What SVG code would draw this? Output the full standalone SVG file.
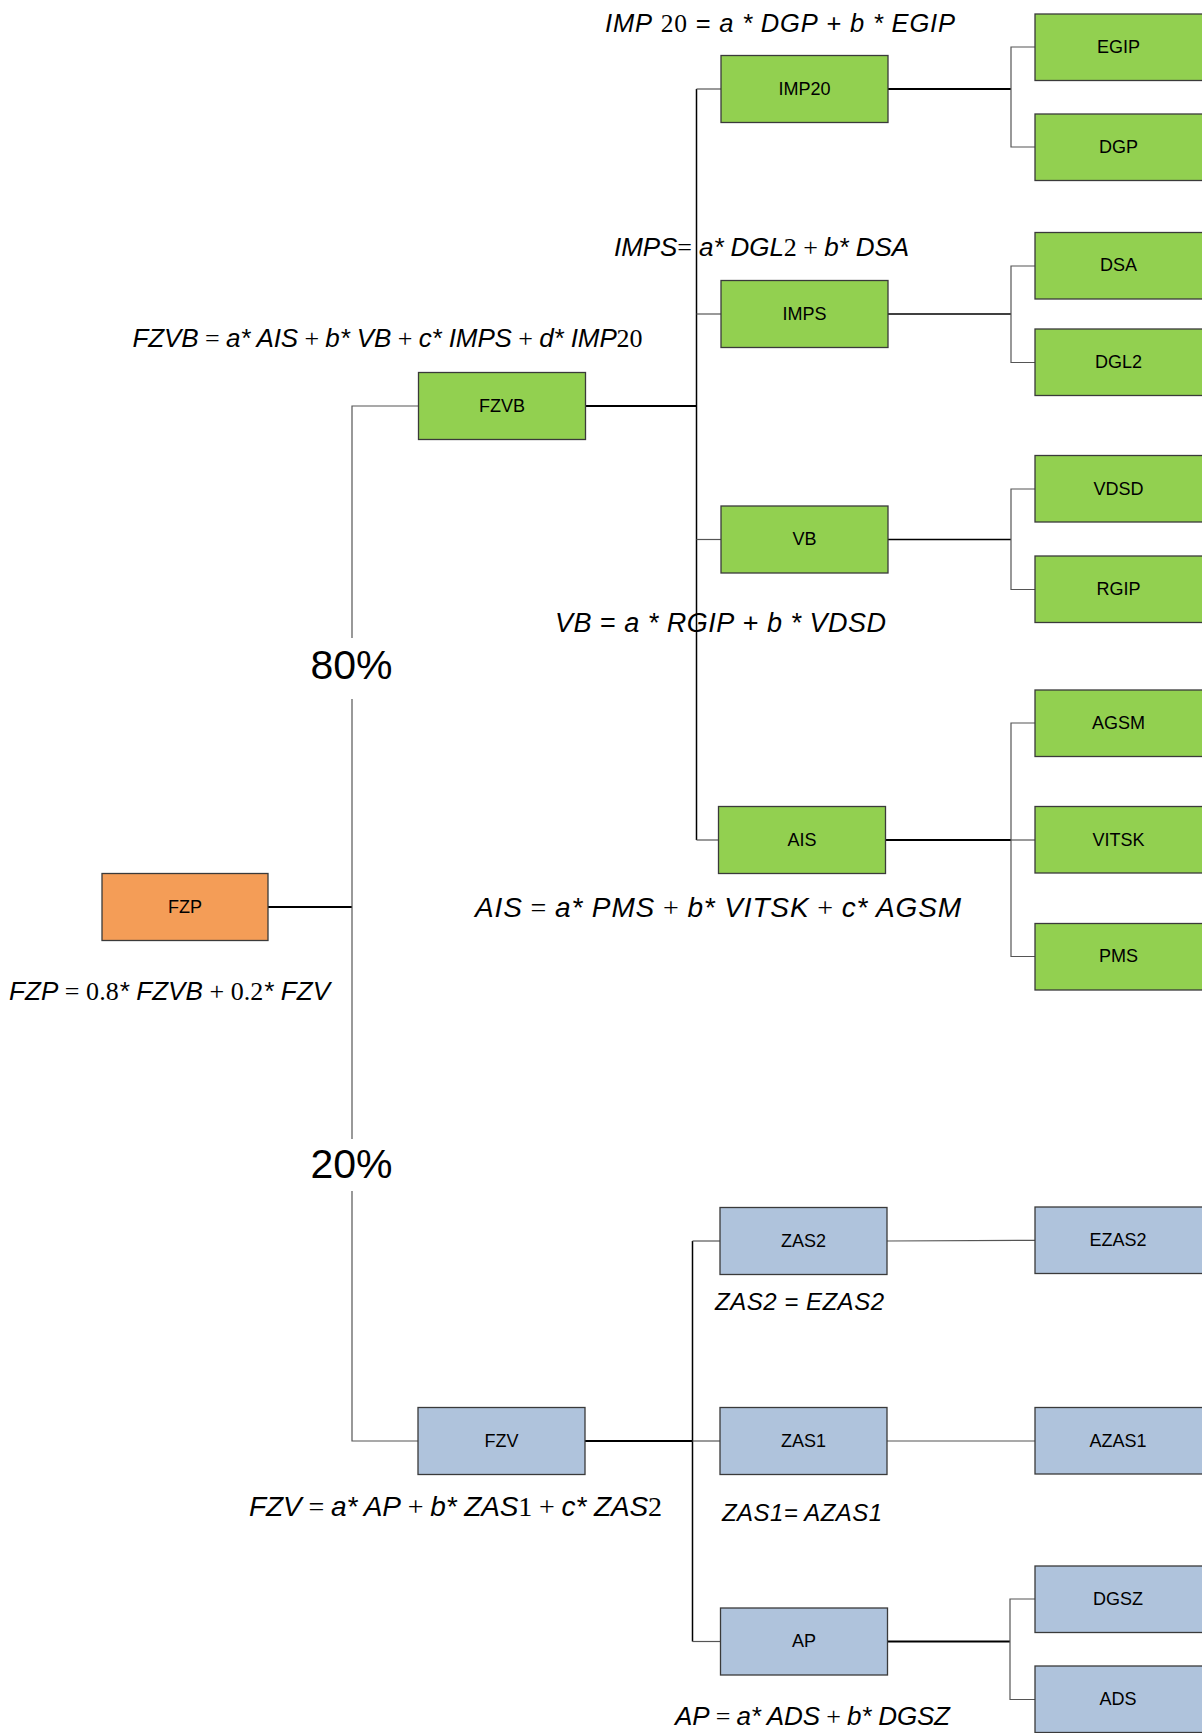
<svg xmlns="http://www.w3.org/2000/svg" width="1202" height="1733" viewBox="0 0 1202 1733">
  <style>
    .box { stroke: #3a3a3a; stroke-width: 1.3; }
    .g { fill: #92D050; }
    .b { fill: #AFC3DC; }
    .o { fill: #F49D57; }
    .lbl { font-family: "Liberation Sans", Arial, sans-serif; font-size: 18px; fill: #000; text-anchor: middle; }
    .pct { font-family: "Liberation Sans", Arial, sans-serif; font-size: 41px; fill: #000; text-anchor: middle; }
    .eq { font-family: "Liberation Sans", Arial, sans-serif; fill: #000; }
    .v { font-style: italic; font-family: "Liberation Sans", Arial, sans-serif; }
    .n { font-family: "Liberation Serif", "Times New Roman", serif; font-style: normal; }
    .thick { stroke: #000; stroke-width: 2; fill: none; }
    .trunk { stroke: #000; stroke-width: 1.5; fill: none; }
    .thin { stroke: #555; stroke-width: 1.2; fill: none; }
  </style>

  <!-- connectors -->
  <g id="connectors">
    <!-- root split: FZP to FZVB (80%) and FZV (20%) -->
    <line class="thick" x1="268" y1="907" x2="352" y2="907"/>
    <polyline class="thin" points="418.5,406 352,406 352,638"/>
    <line class="thin" x1="352" y1="699" x2="352" y2="1139"/>
    <polyline class="thin" points="352,1191 352,1441 418,1441"/>

    <!-- FZVB trunk -->
    <line class="thick" x1="585.5" y1="406" x2="696.5" y2="406"/>
    <line class="trunk" x1="696.5" y1="89" x2="696.5" y2="840"/>
    <line class="thin" x1="696.5" y1="89" x2="721" y2="89"/>
    <line class="thin" x1="696.5" y1="314" x2="721" y2="314"/>
    <line class="thin" x1="696.5" y1="539.5" x2="721" y2="539.5"/>
    <line class="thin" x1="696.5" y1="840" x2="718.5" y2="840"/>

    <!-- IMP20 branch -->
    <line class="thick" x1="888" y1="89" x2="1011" y2="89"/>
    <polyline class="thin" points="1035,47 1011,47 1011,147 1035,147"/>
    <!-- IMPS branch -->
    <line class="trunk" x1="888" y1="314" x2="1011" y2="314"/>
    <polyline class="thin" points="1035,266 1011,266 1011,362.5 1035,362.5"/>
    <!-- VB branch -->
    <line class="trunk" x1="888" y1="539.5" x2="1011" y2="539.5"/>
    <polyline class="thin" points="1035,489 1011,489 1011,589.5 1035,589.5"/>
    <!-- AIS branch -->
    <line class="thick" x1="885.5" y1="840" x2="1011" y2="840"/>
    <polyline class="thin" points="1035,723 1011,723 1011,956.5 1035,956.5"/>
    <line class="thin" x1="1011" y1="840" x2="1035" y2="840"/>

    <!-- FZV trunk -->
    <line class="thick" x1="584.5" y1="1441" x2="692.5" y2="1441"/>
    <line class="trunk" x1="692.5" y1="1241" x2="692.5" y2="1641.5"/>
    <line class="thin" x1="692.5" y1="1241" x2="720" y2="1241"/>
    <line class="thin" x1="692.5" y1="1441" x2="720" y2="1441"/>
    <line class="thin" x1="692.5" y1="1641.5" x2="720.5" y2="1641.5"/>
    <!-- ZAS2, ZAS1 leaves -->
    <line class="thin" x1="887" y1="1241" x2="1035" y2="1240.3"/>
    <line class="thin" x1="887" y1="1441" x2="1035" y2="1441"/>
    <!-- AP branch -->
    <line class="thick" x1="887" y1="1641.5" x2="1010" y2="1641.5"/>
    <polyline class="thin" points="1035,1599 1010,1599 1010,1699.5 1035,1699.5"/>
  </g>

  <!-- percentage labels on the root split -->
  <text class="pct" x="351.5" y="678.5">80%</text>
  <text class="pct" x="351.5" y="1178">20%</text>

  <!-- root -->
  <g id="FZP"><rect class="box o" x="102" y="873.5" width="166" height="67"/><text class="lbl" x="185" y="912.5">FZP</text></g>

  <!-- level 1 -->
  <g id="FZVB"><rect class="box g" x="418.5" y="372.5" width="167" height="67"/><text class="lbl" x="502" y="411.5">FZVB</text></g>
  <g id="FZV"><rect class="box b" x="418" y="1407.5" width="167" height="67"/><text class="lbl" x="501.5" y="1446.5">FZV</text></g>

  <!-- level 2, FZVB side -->
  <g id="IMP20"><rect class="box g" x="721" y="55.5" width="167" height="67"/><text class="lbl" x="804.5" y="94.5">IMP20</text></g>
  <g id="IMPS"><rect class="box g" x="721" y="280.5" width="167" height="67"/><text class="lbl" x="804.5" y="319.5">IMPS</text></g>
  <g id="VB"><rect class="box g" x="721" y="506" width="167" height="67"/><text class="lbl" x="804.5" y="545">VB</text></g>
  <g id="AIS"><rect class="box g" x="718.5" y="806.5" width="167" height="67"/><text class="lbl" x="802" y="845.5">AIS</text></g>

  <!-- level 2, FZV side -->
  <g id="ZAS2"><rect class="box b" x="720" y="1207.5" width="167" height="67"/><text class="lbl" x="803.5" y="1246.5">ZAS2</text></g>
  <g id="ZAS1"><rect class="box b" x="720" y="1407.5" width="167" height="67"/><text class="lbl" x="803.5" y="1446.5">ZAS1</text></g>
  <g id="AP"><rect class="box b" x="720.5" y="1608" width="167" height="67"/><text class="lbl" x="804" y="1647">AP</text></g>

  <!-- level 3 leaves -->
  <g id="EGIP"><rect class="box g" x="1035" y="14" width="170" height="66.5"/><text class="lbl" x="1118.5" y="52.5">EGIP</text></g>
  <g id="DGP"><rect class="box g" x="1035" y="114" width="170" height="66.5"/><text class="lbl" x="1118.5" y="152.5">DGP</text></g>
  <g id="DSA"><rect class="box g" x="1035" y="232.5" width="170" height="66.5"/><text class="lbl" x="1118.5" y="271">DSA</text></g>
  <g id="DGL2"><rect class="box g" x="1035" y="329" width="170" height="66.5"/><text class="lbl" x="1118.5" y="367.5">DGL2</text></g>
  <g id="VDSD"><rect class="box g" x="1035" y="455.5" width="170" height="66.5"/><text class="lbl" x="1118.5" y="494.5">VDSD</text></g>
  <g id="RGIP"><rect class="box g" x="1035" y="556" width="170" height="66.5"/><text class="lbl" x="1118.5" y="595">RGIP</text></g>
  <g id="AGSM"><rect class="box g" x="1035" y="690" width="170" height="66.5"/><text class="lbl" x="1118.5" y="728.5">AGSM</text></g>
  <g id="VITSK"><rect class="box g" x="1035" y="806.5" width="170" height="66.5"/><text class="lbl" x="1118.5" y="845.5">VITSK</text></g>
  <g id="PMS"><rect class="box g" x="1035" y="923.5" width="170" height="66.5"/><text class="lbl" x="1118.5" y="962">PMS</text></g>
  <g id="EZAS2"><rect class="box b" x="1035" y="1207" width="170" height="66.5"/><text class="lbl" x="1118" y="1246">EZAS2</text></g>
  <g id="AZAS1"><rect class="box b" x="1035" y="1407.5" width="170" height="66.5"/><text class="lbl" x="1118" y="1446.5">AZAS1</text></g>
  <g id="DGSZ"><rect class="box b" x="1035" y="1566" width="170" height="66.5"/><text class="lbl" x="1118" y="1604.5">DGSZ</text></g>
  <g id="ADS"><rect class="box b" x="1035" y="1666" width="170" height="66.5"/><text class="lbl" x="1118" y="1705">ADS</text></g>

  <!-- weighting formulas -->
  <g id="formulas">
    <text class="eq" x="605" y="32" font-size="25.5" textLength="350" lengthAdjust="spacing"><tspan class="v">IMP</tspan> <tspan class="n">20</tspan> = <tspan class="v">a * DGP</tspan> + <tspan class="v">b * EGIP</tspan></text>
    <text class="eq" x="614" y="256" font-size="26" textLength="295" lengthAdjust="spacing"><tspan class="v">IMPS</tspan><tspan class="n">=</tspan> <tspan class="v">a* DGL</tspan><tspan class="n">2 + </tspan><tspan class="v">b* DSA</tspan></text>
    <text class="eq" x="132.5" y="346.5" font-size="26" textLength="510" lengthAdjust="spacing"><tspan class="v">FZVB</tspan><tspan class="n"> = </tspan><tspan class="v">a* AIS</tspan><tspan class="n"> + </tspan><tspan class="v">b* VB</tspan><tspan class="n"> + </tspan><tspan class="v">c* IMPS</tspan><tspan class="n"> + </tspan><tspan class="v">d* IMP</tspan><tspan class="n">20</tspan></text>
    <text class="eq" x="555" y="632" font-size="27" textLength="331" lengthAdjust="spacing"><tspan class="v">VB</tspan> = <tspan class="v">a * RGIP</tspan> + <tspan class="v">b * VDSD</tspan></text>
    <text class="eq" x="475" y="916.5" font-size="28" textLength="486" lengthAdjust="spacing"><tspan class="v">AIS</tspan><tspan class="n"> = </tspan><tspan class="v">a* PMS</tspan><tspan class="n"> + </tspan><tspan class="v">b* VITSK</tspan><tspan class="n"> + </tspan><tspan class="v">c* AGSM</tspan></text>
    <text class="eq" x="9" y="1000" font-size="26" textLength="321" lengthAdjust="spacing"><tspan class="v">FZP</tspan><tspan class="n"> = 0.8</tspan><tspan class="v">* FZVB</tspan><tspan class="n"> + 0.2</tspan><tspan class="v">* FZV</tspan></text>
    <text class="eq" x="715" y="1310" font-size="24" textLength="169" lengthAdjust="spacing"><tspan class="v">ZAS2 = EZAS2</tspan></text>
    <text class="eq" x="249" y="1515.5" font-size="28" textLength="413" lengthAdjust="spacing"><tspan class="v">FZV</tspan><tspan class="n"> = </tspan><tspan class="v">a* AP</tspan><tspan class="n"> + </tspan><tspan class="v">b* ZAS</tspan><tspan class="n">1 + </tspan><tspan class="v">c* ZAS</tspan><tspan class="n">2</tspan></text>
    <text class="eq" x="722" y="1521" font-size="24" textLength="160" lengthAdjust="spacing"><tspan class="v">ZAS1= AZAS1</tspan></text>
    <text class="eq" x="675" y="1725" font-size="26" textLength="275" lengthAdjust="spacing"><tspan class="v">AP</tspan><tspan class="n"> = </tspan><tspan class="v">a* ADS</tspan><tspan class="n"> + </tspan><tspan class="v">b* DGSZ</tspan></text>
  </g>
</svg>
